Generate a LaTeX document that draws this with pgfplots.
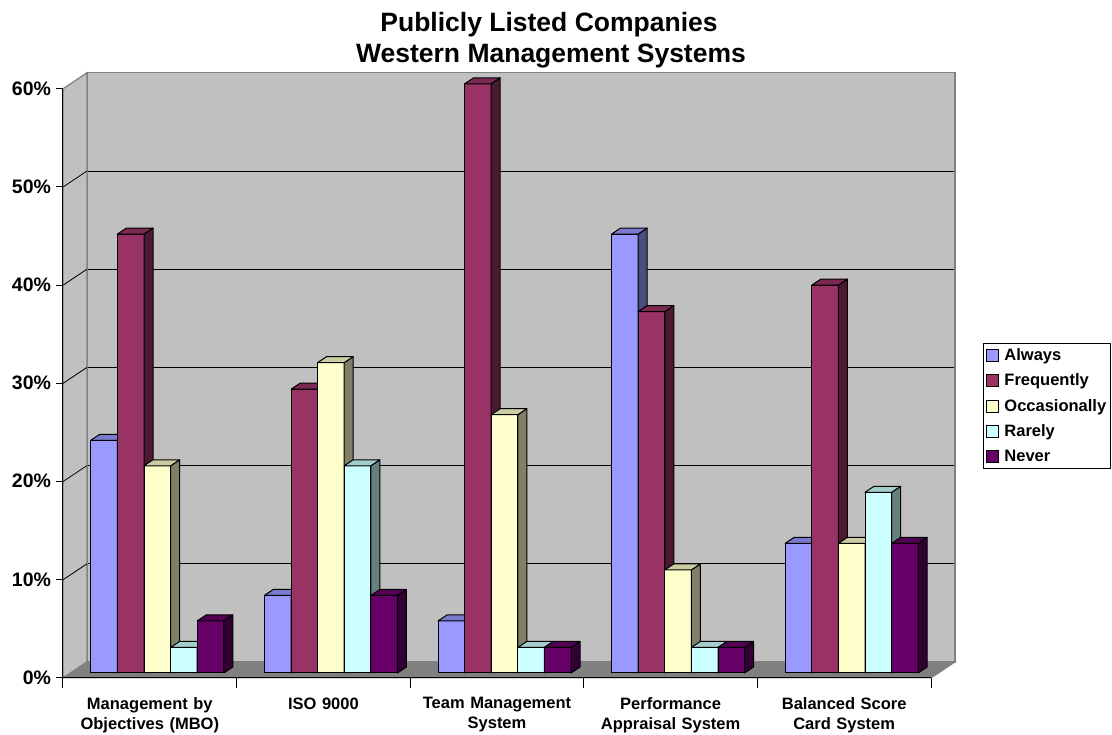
\documentclass[border=0pt]{standalone}
\usepackage{pgfplots}
\pgfplotsset{compat=1.18}
\usepackage{pgfplotstable}
\usepackage{fontspec}
\setmainfont{Liberation Sans}

\definecolor{cA}{HTML}{9999FF}\definecolor{cAs}{HTML}{4C4C80}\definecolor{cAt}{HTML}{7A7ACC}
\definecolor{cF}{HTML}{993366}\definecolor{cFs}{HTML}{4C1933}\definecolor{cFt}{HTML}{7A2952}
\definecolor{cO}{HTML}{FFFFCC}\definecolor{cOs}{HTML}{808066}\definecolor{cOt}{HTML}{CCCCA3}
\definecolor{cR}{HTML}{CCFFFF}\definecolor{cRs}{HTML}{668080}\definecolor{cRt}{HTML}{A3CCCC}
\definecolor{cN}{HTML}{660066}\definecolor{cNs}{HTML}{330033}\definecolor{cNt}{HTML}{520052}
\definecolor{wallgray}{HTML}{C0C0C0}
\definecolor{floorgray}{HTML}{808080}

% values in percent
\pgfplotstableread{
x always frequently occasionally rarely never
0 23.7 44.7 21.1 2.6 5.3
1 7.9 28.9 31.6 21.1 7.9
2 5.3 60.0 26.3 2.6 2.6
3 44.7 36.8 10.5 2.6 2.6
4 13.2 39.5 13.2 18.4 13.2
}\datatable

\pgfdeclareplotmark{nomark}{}

\pgfplotsset{
  % 3D faces of each bar, drawn at the bar's data point
  barfaces/.style n args={5}{%
    forget plot, only marks, mark=nomark, scatter,
    visualization depends on={\thisrow{#4} \as \barval},
    scatter/@pre marker code/.code={%
      \pgfmathsetlengthmacro{\hh}{\barval*9.82pt}%
      \filldraw[fill=#5, draw=black, line width=1pt, line join=round]
        ({#3-13.3pt},0pt) rectangle ({#3+13.3pt},-\hh);
      \filldraw[fill=#1, draw=black, line width=1pt, line join=round]
        ({#3+13.3pt},0pt) -- ++(9pt,6pt) -- ++(0pt,-\hh) -- ++(-9pt,-6pt) -- cycle;
      \filldraw[fill=#2, draw=black, line width=1pt, line join=round]
        ({#3-13.3pt},0pt) -- ++(26.6pt,0pt) -- ++(9pt,6pt) -- ++(-26.6pt,0pt) -- cycle;
    },
    scatter/@post marker code/.code={},
  },
  mybar/.style n args={2}{%
    ybar, bar width=26.6pt, bar shift=#2, fill=#1, draw=black, line width=1pt,
    legend image code/.code={\path[draw=none,fill=none] (0pt,0pt) -- (17pt,0pt);\filldraw[fill=#1,draw=black,line width=0.8pt] (0.5pt,-6pt) rectangle (13pt,6pt);},
  },
}

\begin{document}
\begin{tikzpicture}
\path[use as bounding box] (0,0) rectangle (1112pt,735pt);

% back wall
\begin{axis}[at={(87pt,73pt)}, anchor=south west, scale only axis,
  width=868pt, height=589.2pt,
  xmin=-0.5, xmax=4.5, ymin=0, ymax=60,
  axis background/.style={fill=wallgray},
  axis line style={draw=floorgray, line width=1.2pt},
  xtick=\empty, ytick={10,20,...,50}, yticklabels={},
  major tick length=0pt,
  ymajorgrids, grid style={black, line width=0.8pt}]
\end{axis}

% side wall and floor
\filldraw[fill=wallgray, draw=floorgray, line width=1.2pt] (63pt,57pt) -- (63pt,646.2pt) -- (87pt,662.2pt) -- (87pt,73pt) -- cycle;
\foreach \k in {1,...,5}{
  \draw[black, line width=0.8pt] (63pt,{57pt+98.2pt*\k}) -- (87pt,{73pt+98.2pt*\k});
}
\filldraw[fill=floorgray, draw=floorgray, line width=1pt] (63pt,57pt) -- (931pt,57pt) -- (955pt,73pt) -- (87pt,73pt) -- cycle;

% front axis
\begin{axis}[at={(63pt,57pt)}, anchor=south west, scale only axis,
  width=868pt, height=589.2pt,
  xmin=-0.5, xmax=4.5, ymin=0, ymax=60,
  axis x line*=bottom, axis y line*=left,
  axis line style={black, line width=1pt, -},
  tick align=outside,
  ytick={0,10,...,60},
  yticklabels={0\%,10\%,20\%,30\%,40\%,50\%,60\%},
  xtick={0,...,4},
  xticklabels={{Management by\\Objectives (MBO)},{ISO 9000},{Team Management\\System},{Performance\\Appraisal System},{Balanced Score\\Card System}},
  minor xtick={-0.5,0.5,...,4.5},
  major x tick style={draw=none},
  minor tick length=10pt, major tick length=7pt,
  tick style={black, line width=1pt},
  yticklabel style={font=\fontsize{19.5}{23}\selectfont\bfseries, xshift=-1.5pt, yshift=0.5pt},
  xticklabel style={font=\fontsize{16.5}{20}\selectfont\bfseries, align=center, text width=170pt, yshift=-9pt}]
\end{axis}

% bars
\begin{axis}[at={(70.5pt,62pt)}, anchor=south west, scale only axis,
  width=868pt, height=589.2pt,
  xmin=-0.5, xmax=4.5, ymin=0, ymax=60,
  axis lines=none, clip=false, clip marker paths=true,
  legend style={at={(1.0513,0.56)}, anchor=north west, draw=black, line width=0.8pt,
    font=\fontsize{16.5}{19}\selectfont\bfseries, inner xsep=2pt, inner ysep=3pt, row sep=8pt},
  legend cell align=left]
\addplot[mybar={cA}{-53.2pt}] table[x=x,y=always]{\datatable};
\addlegendentry{Always}
\addplot[barfaces={cAs}{cAt}{-53.2pt}{always}{cA}] table[x=x,y=always]{\datatable};
\addplot[mybar={cF}{-26.6pt}] table[x=x,y=frequently]{\datatable};
\addlegendentry{Frequently}
\addplot[barfaces={cFs}{cFt}{-26.6pt}{frequently}{cF}] table[x=x,y=frequently]{\datatable};
\addplot[mybar={cO}{0pt}] table[x=x,y=occasionally]{\datatable};
\addlegendentry{Occasionally}
\addplot[barfaces={cOs}{cOt}{0pt}{occasionally}{cO}] table[x=x,y=occasionally]{\datatable};
\addplot[mybar={cR}{26.6pt}] table[x=x,y=rarely]{\datatable};
\addlegendentry{Rarely}
\addplot[barfaces={cRs}{cRt}{26.6pt}{rarely}{cR}] table[x=x,y=rarely]{\datatable};
\addplot[mybar={cN}{53.2pt}] table[x=x,y=never]{\datatable};
\addlegendentry{Never}
\addplot[barfaces={cNs}{cNt}{53.2pt}{never}{cN}] table[x=x,y=never]{\datatable};
\end{axis}

% title
\node[font=\fontsize{26.5}{31}\selectfont\bfseries, anchor=base] at (549pt,703pt) {Publicly Listed Companies};
\node[font=\fontsize{26.5}{31}\selectfont\bfseries, anchor=base] at (551pt,672pt) {Western Management Systems};
\end{tikzpicture}
\end{document}
